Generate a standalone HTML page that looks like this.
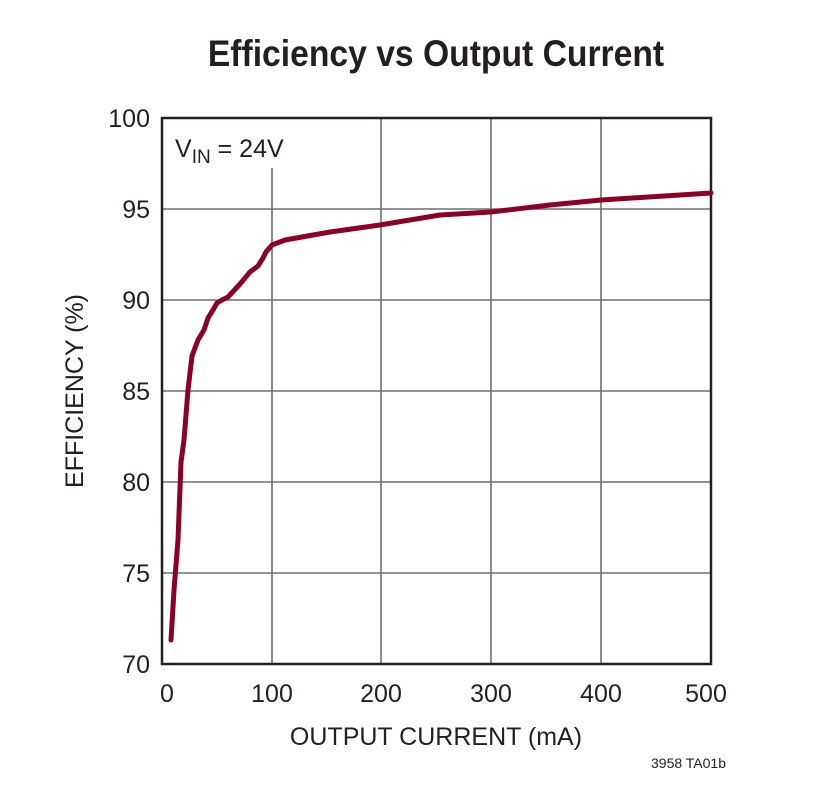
<!DOCTYPE html>
<html><head><meta charset="utf-8"><style>
body{margin:0;background:#fff}
svg text{font-family:"Liberation Sans",sans-serif;fill:#231f20}
</style></head><body>
<svg width="817" height="800" viewBox="0 0 817 800" xmlns="http://www.w3.org/2000/svg">
<text x="436" y="66" text-anchor="middle" font-size="37" font-weight="bold" transform="translate(436 0) scale(0.91 1) translate(-436 0)">Efficiency vs Output Current</text>
<g stroke="#6d6e70" stroke-width="1.6">
<line x1="162" y1="209" x2="711" y2="209"/><line x1="162" y1="300" x2="711" y2="300"/>
<line x1="162" y1="391" x2="711" y2="391"/><line x1="162" y1="482" x2="711" y2="482"/>
<line x1="162" y1="573" x2="711" y2="573"/>
<line x1="272" y1="168" x2="272" y2="664"/><line x1="381" y1="118" x2="381" y2="664"/>
<line x1="491" y1="118" x2="491" y2="664"/><line x1="601" y1="118" x2="601" y2="664"/>
</g>
<rect x="162" y="118" width="549" height="546" fill="none" stroke="#231f20" stroke-width="2.5"/>
<text x="175" y="157" font-size="25">V<tspan font-size="19" dy="6">IN</tspan><tspan dy="-6"> = 24V</tspan></text>
<g font-size="25" text-anchor="end">
<text x="150" y="127">100</text><text x="150" y="218">95</text><text x="150" y="309">90</text>
<text x="150" y="400">85</text><text x="150" y="491">80</text><text x="150" y="582">75</text><text x="150" y="673">70</text>
</g>
<g font-size="25" text-anchor="middle">
<text x="167" y="702">0</text><text x="272" y="702">100</text><text x="381" y="702">200</text>
<text x="491" y="702">300</text><text x="601" y="702">400</text><text x="706" y="702">500</text>
</g>
<text x="436" y="745" font-size="25" text-anchor="middle">OUTPUT CURRENT (mA)</text>
<text transform="translate(83 391) rotate(-90)" font-size="25" text-anchor="middle">EFFICIENCY (%)</text>
<text x="726" y="768" font-size="14" text-anchor="end">3958 TA01b</text>
<polyline fill="none" stroke="#8b0026" stroke-width="5" stroke-linecap="round" stroke-linejoin="round"
points="171,640 174,590 178,540 181,462 184,440 188,390 192,356 198,340 204,330 208,318 213,310 217,303 222,300 228,297 240,284 250,272 258,266 263,258 266,252 272,245 285,240 330,232 380,225 440,215 491,212 550,205 601,200 711,193"/>
</svg>
</body></html>
